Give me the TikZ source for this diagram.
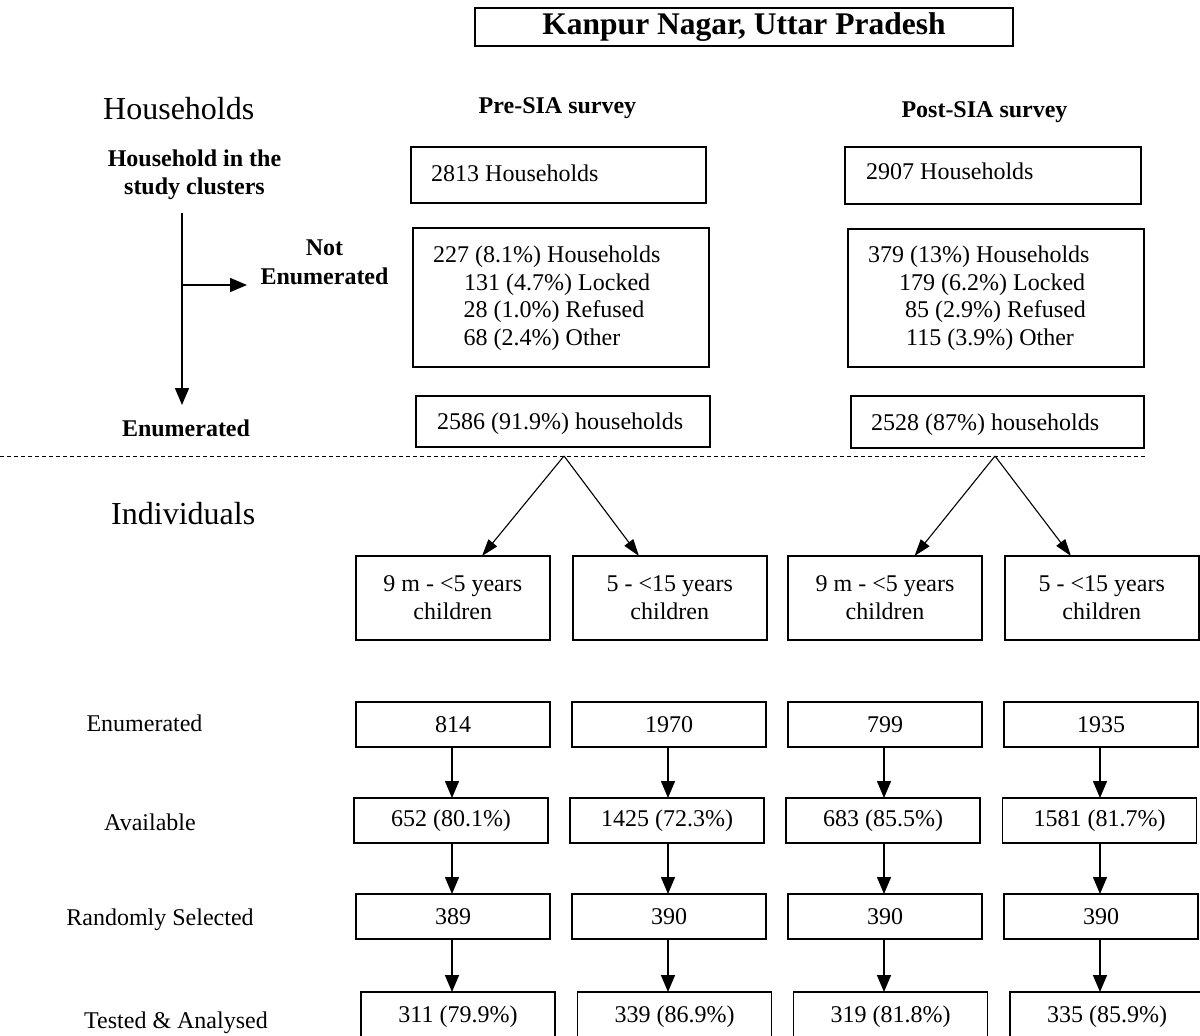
\documentclass[tikz,border=0pt]{standalone}
\usepackage{fontspec}
\setmainfont{Liberation Serif}
\usetikzlibrary{arrows.meta}
\tikzset{
  box/.style={draw, line width=1.5pt, inner sep=0pt, outer sep=0pt},
  t24/.style={font=\fontsize{24}{28}\selectfont, inner sep=0pt},
  b24/.style={font=\bfseries\fontsize{24}{28}\selectfont, inner sep=0pt},
  big/.style={font=\fontsize{32}{36}\selectfont, inner sep=0pt},
  arr/.style={line width=1.5pt, -{Triangle[length=17pt,width=14pt]}},
  slimarr/.style={line width=1.1pt, -{Triangle[length=17pt,width=11pt]}},
  dashline/.style={line width=0.9pt, dash pattern=on 4pt off 3pt},
  cbox/.style={box, t24, align=center, minimum width=194pt, minimum height=84pt},
  nbox/.style={box, t24, minimum width=194pt, minimum height=45pt},
}
\begin{document}
\begin{tikzpicture}[x=1pt,y=-1pt]
\path[use as bounding box, clip] (0,0) rectangle (1200,1036);

% title
\node[box, font=\bfseries\fontsize{31.5}{36}\selectfont, minimum width=538pt, minimum height=38pt] (title) at (744,27) {Kanpur Nagar, Uttar Pradesh};

% section labels
\node[big, anchor=base west] (lhh) at (103,119) {Households};
\node[big, anchor=base west] (lind) at (111,524) {Individuals};
\node[b24, anchor=base] (pre) at (557.5,113) {Pre-SIA survey};
\node[b24, anchor=base] (post) at (984.5,117) {Post-SIA survey};

% left household flow
\node[b24, align=center, font=\bfseries\fontsize{24}{28}\selectfont] (hhin) at (194.5,175) {Household in the\\study clusters};
\node[b24, align=center, font=\bfseries\fontsize{24}{29}\selectfont] (notenum) at (324.5,262.5) {Not\\Enumerated};
\node[b24, anchor=base] (enumb) at (186,436) {Enumerated};
\coordinate (vtop) at (182,213);
\coordinate (vbot) at (182,405);
\coordinate (hst) at (183,285);
\coordinate (hend) at (247,285);
\draw[arr] (vtop) -- (vbot);
\draw[arr] (hst) -- (hend);

% pre-SIA household boxes
\node[box, minimum width=295pt, minimum height=56pt] (b2813) at (558.5,175) {};
\node[t24, anchor=base west] (t2813) at (431,181) {2813 Households};
\node[box, minimum width=296pt, minimum height=139pt] (b227) at (561,297.5) {};
\node[t24, anchor=base west] (t227a) at (433,262) {227 (8.1\%) Households};
\node[t24, anchor=base west] (t227b) at (464,290) {131 (4.7\%) Locked};
\node[t24, anchor=base west] (t227c) at (463.5,317.5) {28 (1.0\%) Refused};
\node[t24, anchor=base west] (t227d) at (463.5,345) {68 (2.4\%) Other};
\node[box, minimum width=294pt, minimum height=51pt] (b2586) at (563,421.5) {};
\node[t24, anchor=base west] (t2586) at (437,429) {2586 (91.9\%) households};

% post-SIA household boxes
\node[box, minimum width=296pt, minimum height=57pt] (b2907) at (993,175.5) {};
\node[t24, anchor=base west] (t2907) at (866,179) {2907 Households};
\node[box, minimum width=296pt, minimum height=138pt] (b379) at (996,298) {};
\node[t24, anchor=base west] (t379a) at (868,262) {379 (13\%) Households};
\node[t24, anchor=base west] (t379b) at (899,290) {179 (6.2\%) Locked};
\node[t24, anchor=base west] (t379c) at (905,317.5) {85 (2.9\%) Refused};
\node[t24, anchor=base west] (t379d) at (906,345) {115 (3.9\%) Other};
\node[box, minimum width=293pt, minimum height=52pt] (b2528) at (997.5,422) {};
\node[t24, anchor=base west] (t2528) at (871,430) {2528 (87\%) households};

% dashed separator
\coordinate (dl) at (0,456);
\coordinate (dr) at (1146,456);
\draw[dashline] (dl) -- (dr);

% children boxes
\node[cbox] (c1) at (452.75,598) {9 m - <5 years\\children};
\node[cbox] (c2) at (669.75,598) {5 - <15 years\\children};
\node[cbox] (c3) at (885,598) {9 m - <5 years\\children};
\node[cbox] (c4) at (1101.75,598) {5 - <15 years\\children};

\coordinate (apA) at (564,456);
\coordinate (apB) at (995,456);
\draw[slimarr] (apA) -- ([xshift=29.25pt]c1.north);
\draw[slimarr] (apA) -- ([xshift=-30.75pt]c2.north);
\draw[slimarr] (apB) -- ([xshift=29.5pt]c3.north);
\draw[slimarr] (apB) -- ([xshift=-30.75pt]c4.north);

% row labels
\node[t24, anchor=base] (lenum) at (144.5,731) {Enumerated};
\node[t24, anchor=base] (lavail) at (150,830) {Available};
\node[t24, anchor=base] (lrand) at (160,925) {Randomly Selected};
\node[t24, anchor=base] (ltest) at (176,1028) {Tested \& Analysed};

% enumerated row
\node[nbox] (e1) at (453,724.5) {814};
\node[nbox] (e2) at (669,724.5) {1970};
\node[nbox] (e3) at (885,724.5) {799};
\node[nbox] (e4) at (1101,724.5) {1935};
% available row
\node[nbox] (a1) at (451,820.5) {652 (80.1\%)};
\node[nbox] (a2) at (667,820.5) {1425 (72.3\%)};
\node[nbox] (a3) at (883,820.5) {683 (85.5\%)};
\node[nbox] (a4) at (1099.5,820.5) {1581 (81.7\%)};
% randomly selected row
\node[nbox] (r1) at (453,916.5) {389};
\node[nbox] (r2) at (669,916.5) {390};
\node[nbox] (r3) at (885,916.5) {390};
\node[nbox] (r4) at (1101,916.5) {390};
% tested row
\node[nbox, minimum height=50pt] (s1) at (458,1017) {311 (79.9\%)};
\node[nbox, minimum height=50pt] (s2) at (674.5,1017) {339 (86.9\%)};
\node[nbox, minimum height=50pt] (s3) at (890.5,1017) {319 (81.8\%)};
\node[nbox, minimum height=50pt] (s4) at (1107,1017) {335 (85.9\%)};

% vertical arrows
\foreach \c/\xx in {1/452,2/668,3/884,4/1100}{
  \draw[arr] (e\c.south -| \xx,0) -- (a\c.north -| \xx,0);
  \draw[arr] (a\c.south -| \xx,0) -- (r\c.north -| \xx,0);
  \draw[arr] (r\c.south -| \xx,0) -- (s\c.north -| \xx,0);
}
\end{tikzpicture}
\end{document}
